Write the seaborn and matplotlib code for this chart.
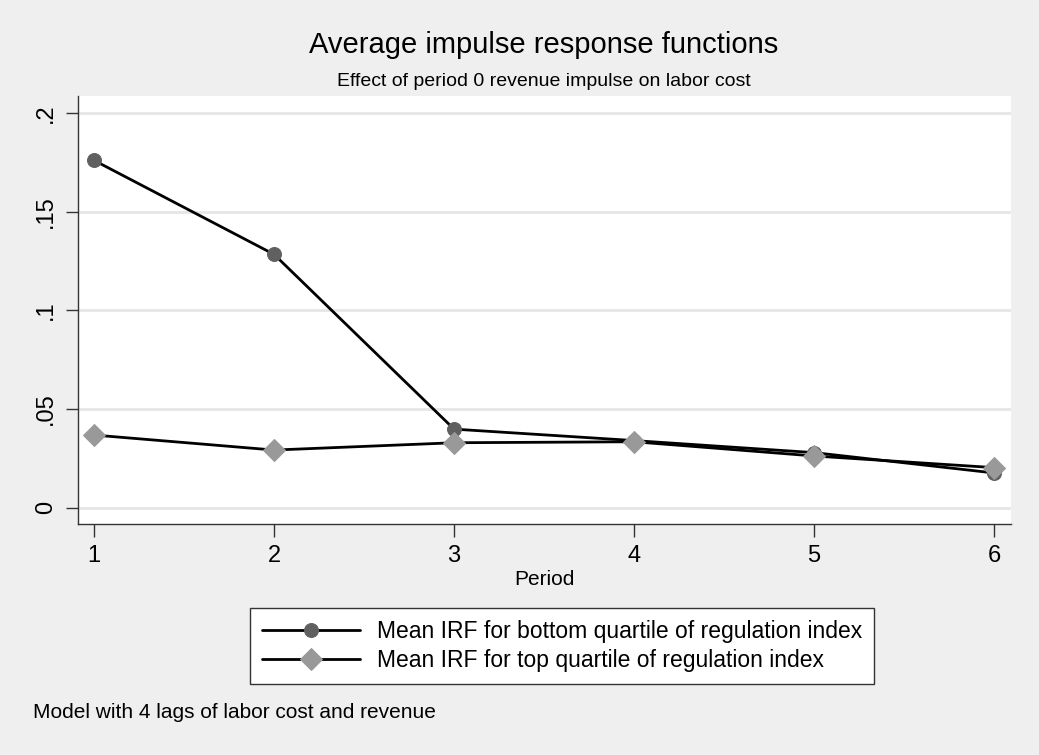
import matplotlib
matplotlib.use("Agg")
import matplotlib.pyplot as plt
import seaborn as sns
import pandas as pd

# data
periods = [1, 2, 3, 4, 5, 6]
irf_bottom = [0.1759, 0.1283, 0.0398, 0.0340, 0.0279, 0.0176]
irf_top = [0.0368, 0.0292, 0.0329, 0.0334, 0.0262, 0.0203]
label_bottom = "Mean IRF for bottom quartile of regulation index"
label_top = "Mean IRF for top quartile of regulation index"
ytick_vals = [0, 0.05, 0.1, 0.15, 0.2]
ytick_labels = ["0", ".05", ".1", ".15", ".2"]

sns.set_style("white")
plt.rcParams["font.family"] = ["Liberation Sans", "DejaVu Sans"]
plt.rcParams["text.color"] = "black"
plt.rcParams["axes.labelcolor"] = "black"
plt.rcParams["xtick.color"] = "black"
plt.rcParams["ytick.color"] = "black"

bg = "#efefef"
fig = plt.figure(figsize=(10.39, 7.55), dpi=100, facecolor=bg)
ax = fig.add_axes([78 / 1039, 1 - 524 / 755, (1011 - 78) / 1039, (524 - 96) / 755])
ax.set_facecolor("white")

df = pd.DataFrame({"period": periods, "bottom": irf_bottom, "top": irf_top})

# gridlines
for v in ytick_vals:
    ax.axhline(v, color="#e6e6e6", lw=2, zorder=0)

sns.lineplot(data=df, x="period", y="bottom", ax=ax, color="black", lw=2,
             marker="o", markersize=10, markerfacecolor="#606060",
             markeredgecolor="#606060", label=label_bottom, zorder=3)
sns.lineplot(data=df, x="period", y="top", ax=ax, color="black", lw=2,
             marker="D", markersize=11, markerfacecolor="#999999",
             markeredgecolor="#999999", label=label_top, zorder=4)

ax.set_xlim(0.911, 6.094)
ax.set_ylim(-0.00825, 0.2085)
ax.set_xticks(periods)
ax.set_xticklabels([str(p) for p in periods], fontsize=17)
ax.set_yticks(ytick_vals)
ax.set_yticklabels(ytick_labels, fontsize=17, rotation=90, va="center")
ax.tick_params(axis="both", direction="out", length=9, width=1, color="#333333",
               left=True, bottom=True, pad=6)
for side in ["top", "right"]:
    ax.spines[side].set_visible(False)
for side in ["left", "bottom"]:
    ax.spines[side].set_color("#333333")
    ax.spines[side].set_linewidth(1)
ax.set_xlabel("Period", fontsize=15, labelpad=2)
ax.set_ylabel("")

ax.get_legend().remove()
handles, labels = ax.get_legend_handles_labels()
leg = fig.legend(handles, labels, loc="center", bbox_to_anchor=(562 / 1039, 1 - 646 / 755),
                 fontsize=16.5, frameon=True, fancybox=False, edgecolor="#333333",
                 framealpha=1, handlelength=4.3, handletextpad=0.75, borderpad=0.5,
                 labelspacing=0.3, borderaxespad=0)
leg.get_frame().set_linewidth(1)
leg.get_frame().set_facecolor("white")

fig.text(544 / 1039, 1 - 45 / 755, "Average impulse response functions",
         fontsize=21, ha="center", va="center")
fig.text(544 / 1039, 1 - 82 / 755, "Effect of period 0 revenue impulse on labor cost",
         fontsize=14, ha="center", va="center")
fig.text(33 / 1039, 1 - 713 / 755, "Model with 4 lags of labor cost and revenue",
         fontsize=15, ha="left", va="center")

fig.savefig("out.png", dpi=100, facecolor=bg)
